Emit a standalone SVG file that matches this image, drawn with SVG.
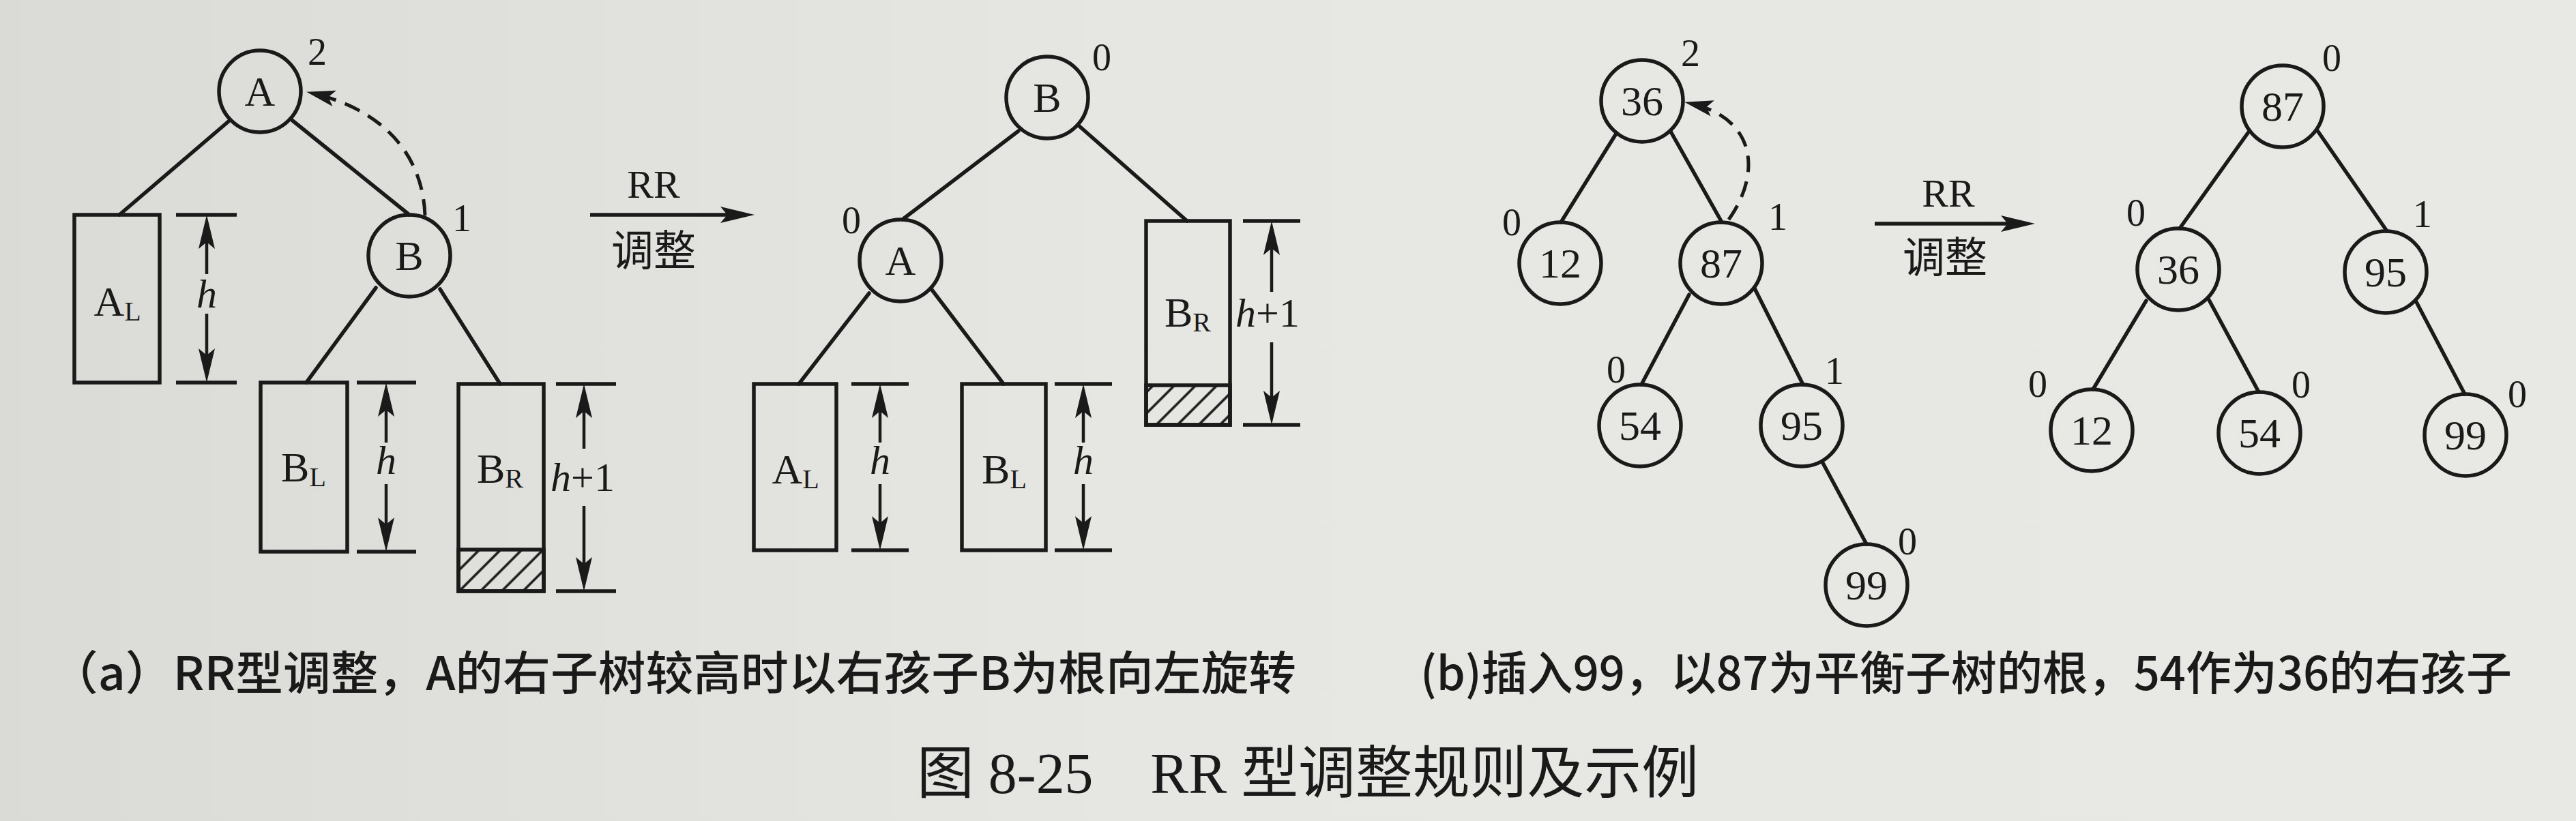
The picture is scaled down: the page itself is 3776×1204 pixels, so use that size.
<svg xmlns="http://www.w3.org/2000/svg" width="3776" height="1204" viewBox="0 0 3776 1204">
<defs>
<style>
.ink{stroke:#1a1a1a;fill:none;stroke-width:5.5}
.edge{stroke:#1a1a1a;fill:none;stroke-width:5.5;stroke-linecap:round}
.dash{stroke:#1a1a1a;fill:none;stroke-width:5;stroke-dasharray:24 14}
.node{fill:none;stroke:#1a1a1a;stroke-width:5.5}
.lbl{font-family:"Liberation Serif","Times New Roman",serif;font-size:62px;fill:#1a1a1a;text-anchor:middle}
.bf{font-family:"Liberation Serif","Times New Roman",serif;font-size:56px;fill:#1a1a1a;text-anchor:middle}
.it{font-family:"Liberation Serif","Times New Roman",serif;font-size:60px;fill:#1a1a1a;text-anchor:middle}
.it tspan.h{font-style:italic}
.rr{font-family:"Liberation Serif","Times New Roman",serif;font-size:58px;fill:#1a1a1a;text-anchor:middle}
.cj{font-family:"Noto Sans CJK SC",sans-serif;font-size:62px;fill:#1a1a1a;text-anchor:middle}
.cap{font-family:"Noto Sans CJK SC",sans-serif;font-size:68px;font-weight:500;fill:#1a1a1a}
.title{font-family:"Liberation Serif","Noto Sans CJK SC",serif;font-size:84px;fill:#1a1a1a}
.bar{stroke:#1a1a1a;stroke-width:5.5}
.dim{stroke:#1a1a1a;stroke-width:4.5;marker-end:url(#arr)}
.hatch{fill:url(#hatch);stroke:#1a1a1a;stroke-width:5.5}
</style>
<linearGradient id="bg" x1="0" y1="0" x2="1" y2="0">
<stop offset="0" stop-color="#dadad6"/>
<stop offset="0.45" stop-color="#e6e6e2"/>
<stop offset="1" stop-color="#e8e8e4"/>
</linearGradient>
<marker id="arr" viewBox="-60 -15 64 30" refX="-12" refY="0" markerWidth="64" markerHeight="30" markerUnits="userSpaceOnUse" orient="auto">
<path d="M0,0 L-50,-12 L-40,0 L-50,12 Z" fill="#1a1a1a"/>
</marker>
<marker id="arr2" viewBox="-50 -15 54 30" refX="-10" refY="0" markerWidth="54" markerHeight="30" markerUnits="userSpaceOnUse" orient="auto">
<path d="M0,0 L-42,-12 L-33,0 L-42,12 Z" fill="#1a1a1a"/>
</marker>
<pattern id="hatch" patternUnits="userSpaceOnUse" width="22" height="22" patternTransform="rotate(45)">
<line x1="11" y1="-2" x2="11" y2="24" stroke="#1a1a1a" stroke-width="3.5"/>
</pattern>
</defs>
<rect x="0" y="0" width="3776" height="1204" fill="url(#bg)"/>

<g id="connectors">
<!-- (a) before -->
<line class="edge" x1="335" y1="178" x2="175" y2="315"/>
<line class="edge" x1="429" y1="177" x2="600" y2="315"/>
<line class="edge" x1="551" y1="422" x2="449" y2="561"/>
<line class="edge" x1="645" y1="424" x2="733" y2="563"/>
<path class="dash" d="M623,316 C620,230 565,162 459,137" marker-end="url(#arr2)"/>
<!-- (a) RR arrow -->
<line class="ink" x1="865" y1="315" x2="1094" y2="315" marker-end="url(#arr)"/>
<!-- (a) after -->
<line class="edge" x1="1493" y1="192" x2="1324" y2="321"/>
<line class="edge" x1="1581" y1="184" x2="1740" y2="324"/>
<line class="edge" x1="1274" y1="430" x2="1171" y2="563"/>
<line class="edge" x1="1366" y1="425" x2="1471" y2="563"/>
<!-- (b) before -->
<line class="edge" x1="2369" y1="196" x2="2288" y2="326"/>
<line class="edge" x1="2449" y1="193" x2="2524" y2="326"/>
<line class="edge" x1="2476" y1="432" x2="2406" y2="564"/>
<line class="edge" x1="2572" y1="423" x2="2643" y2="564"/>
<line class="edge" x1="2672" y1="679" x2="2736" y2="798"/>
<path class="dash" d="M2534,322 C2585,250 2570,172 2479,152" marker-end="url(#arr2)"/>
<!-- (b) RR arrow -->
<line class="ink" x1="2748" y1="328" x2="2971" y2="328" marker-end="url(#arr)"/>
<!-- (b) after -->
<line class="edge" x1="3295" y1="195" x2="3195" y2="335"/>
<line class="edge" x1="3398" y1="193" x2="3499" y2="339"/>
<line class="edge" x1="3146" y1="441" x2="3068" y2="571"/>
<line class="edge" x1="3237" y1="438" x2="3311" y2="575"/>
<line class="edge" x1="3541" y1="441" x2="3613" y2="578"/>
</g>

<g id="arrow-labels">
<text class="rr" x="958" y="290">RR</text>
<text class="cj" x="958" y="390">调整</text>
<text class="rr" x="2856" y="303">RR</text>
<text class="cj" x="2851" y="400">调整</text>
</g>

<!-- (a) before -->
<g id="a1-A"><circle class="node" cx="381" cy="134" r="60"/><text class="lbl" x="381" y="155">A</text><text class="bf" x="465" y="95">2</text></g>
<g id="a1-B"><circle class="node" cx="600" cy="375" r="60"/><text class="lbl" x="600" y="396">B</text><text class="bf" x="677" y="339">1</text></g>
<g id="a1-AL"><rect class="ink" x="109" y="315" width="125" height="246"/><text class="lbl" x="172" y="463">A<tspan font-size="40" dy="7">L</tspan></text>
<line class="bar" x1="258" y1="315" x2="347" y2="315"/><line class="bar" x1="258" y1="561" x2="347" y2="561"/>
<line class="dim" x1="303" y1="402" x2="303" y2="327"/><line class="dim" x1="303" y1="460" x2="303" y2="549"/>
<text class="it" x="303" y="451"><tspan class="h">h</tspan></text></g>
<g id="a1-BL"><rect class="ink" x="382" y="561" width="127" height="248"/><text class="lbl" x="445" y="706">B<tspan font-size="40" dy="7">L</tspan></text>
<line class="bar" x1="523" y1="561" x2="610" y2="561"/><line class="bar" x1="523" y1="809" x2="610" y2="809"/>
<line class="dim" x1="566" y1="649" x2="566" y2="573"/><line class="dim" x1="566" y1="710" x2="566" y2="797"/>
<text class="it" x="566" y="695"><tspan class="h">h</tspan></text></g>
<g id="a1-BR"><rect class="ink" x="672" y="563" width="125" height="304"/><rect class="hatch" x="672" y="806" width="125" height="61"/><text class="lbl" x="733" y="708">B<tspan font-size="40" dy="7">R</tspan></text>
<line class="bar" x1="815" y1="563" x2="903" y2="563"/><line class="bar" x1="815" y1="867" x2="903" y2="867"/>
<line class="dim" x1="856" y1="658" x2="856" y2="575"/><line class="dim" x1="856" y1="742" x2="856" y2="855"/>
<text class="it" x="854" y="720"><tspan class="h">h</tspan>+1</text></g>

<!-- (a) after -->
<g id="a2-B"><circle class="node" cx="1535" cy="143" r="60"/><text class="lbl" x="1535" y="164">B</text><text class="bf" x="1615" y="103">0</text></g>
<g id="a2-A"><circle class="node" cx="1320" cy="382" r="60"/><text class="lbl" x="1320" y="403">A</text><text class="bf" x="1248" y="342">0</text></g>
<g id="a2-AL"><rect class="ink" x="1105" y="563" width="121" height="244"/><text class="lbl" x="1166" y="709">A<tspan font-size="40" dy="7">L</tspan></text>
<line class="bar" x1="1248" y1="563" x2="1332" y2="563"/><line class="bar" x1="1248" y1="807" x2="1332" y2="807"/>
<line class="dim" x1="1290" y1="649" x2="1290" y2="575"/><line class="dim" x1="1290" y1="710" x2="1290" y2="795"/>
<text class="it" x="1290" y="695"><tspan class="h">h</tspan></text></g>
<g id="a2-BL"><rect class="ink" x="1410" y="563" width="123" height="244"/><text class="lbl" x="1472" y="709">B<tspan font-size="40" dy="7">L</tspan></text>
<line class="bar" x1="1546" y1="563" x2="1630" y2="563"/><line class="bar" x1="1546" y1="807" x2="1630" y2="807"/>
<line class="dim" x1="1588" y1="649" x2="1588" y2="575"/><line class="dim" x1="1588" y1="710" x2="1588" y2="795"/>
<text class="it" x="1588" y="695"><tspan class="h">h</tspan></text></g>
<g id="a2-BR"><rect class="ink" x="1680" y="324" width="123" height="299"/><rect class="hatch" x="1680" y="565" width="123" height="58"/><text class="lbl" x="1741" y="479">B<tspan font-size="40" dy="7">R</tspan></text>
<line class="bar" x1="1822" y1="324" x2="1906" y2="324"/><line class="bar" x1="1822" y1="623" x2="1906" y2="623"/>
<line class="dim" x1="1864" y1="428" x2="1864" y2="336"/><line class="dim" x1="1864" y1="502" x2="1864" y2="611"/>
<text class="it" x="1858" y="479"><tspan class="h">h</tspan>+1</text></g>

<!-- (b) before -->
<g id="b1-36"><circle class="node" cx="2407" cy="148" r="60"/><text class="lbl" x="2407" y="169">36</text><text class="bf" x="2478" y="97">2</text></g>
<g id="b1-12"><circle class="node" cx="2287" cy="386" r="60"/><text class="lbl" x="2287" y="407">12</text><text class="bf" x="2216" y="345">0</text></g>
<g id="b1-87"><circle class="node" cx="2523" cy="386" r="60"/><text class="lbl" x="2523" y="407">87</text><text class="bf" x="2606" y="337">1</text></g>
<g id="b1-54"><circle class="node" cx="2404" cy="624" r="60"/><text class="lbl" x="2404" y="645">54</text><text class="bf" x="2369" y="561">0</text></g>
<g id="b1-95"><circle class="node" cx="2641" cy="624" r="60"/><text class="lbl" x="2641" y="645">95</text><text class="bf" x="2689" y="563">1</text></g>
<g id="b1-99"><circle class="node" cx="2736" cy="858" r="60"/><text class="lbl" x="2736" y="879">99</text><text class="bf" x="2796" y="813">0</text></g>

<!-- (b) after -->
<g id="b2-87"><circle class="node" cx="3346" cy="156" r="60"/><text class="lbl" x="3346" y="177">87</text><text class="bf" x="3418" y="104">0</text></g>
<g id="b2-36"><circle class="node" cx="3193" cy="395" r="60"/><text class="lbl" x="3193" y="416">36</text><text class="bf" x="3131" y="331">0</text></g>
<g id="b2-95"><circle class="node" cx="3497" cy="399" r="60"/><text class="lbl" x="3497" y="420">95</text><text class="bf" x="3551" y="333">1</text></g>
<g id="b2-12"><circle class="node" cx="3066" cy="631" r="60"/><text class="lbl" x="3066" y="652">12</text><text class="bf" x="2987" y="582">0</text></g>
<g id="b2-54"><circle class="node" cx="3312" cy="635" r="60"/><text class="lbl" x="3312" y="656">54</text><text class="bf" x="3373" y="583">0</text></g>
<g id="b2-99"><circle class="node" cx="3614" cy="638" r="60"/><text class="lbl" x="3614" y="659">99</text><text class="bf" x="3690" y="597">0</text></g>

<g id="captions">
<text class="cap" x="74" y="1012" textLength="1826" lengthAdjust="spacingAndGlyphs">（a）RR型调整，A的右子树较高时以右孩子B为根向左旋转</text>
<text class="cap" x="2082" y="1012" textLength="1600" lengthAdjust="spacingAndGlyphs">(b)插入99，以87为平衡子树的根，54作为36的右孩子</text>
<text class="title" x="1344" y="1163" textLength="1146" lengthAdjust="spacingAndGlyphs">图 8-25　RR 型调整规则及示例</text>
</g>
</svg>
